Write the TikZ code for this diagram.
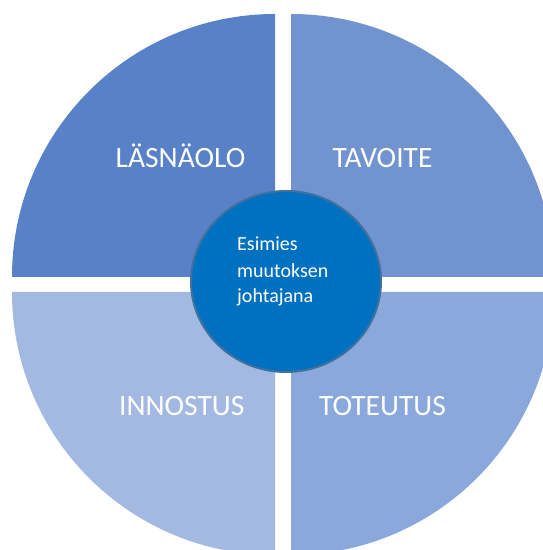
\documentclass[tikz,border=0pt]{standalone}
\usepackage{fontspec}
\setmainfont{Carlito}
\usetikzlibrary{shapes.geometric}
\definecolor{qul}{RGB}{88,129,200}
\definecolor{qur}{RGB}{113,148,209}
\definecolor{qll}{RGB}{163,185,225}
\definecolor{qlr}{RGB}{138,168,219}
\definecolor{hub}{RGB}{0,112,192}
\definecolor{hubline}{RGB}{65,113,156}
\tikzset{
  quad/.style={draw=none},
  qlabel/.style={text=white, anchor=base, inner sep=0pt, font=\fontsize{29.5}{35}\selectfont},
  hubtext/.style={text=white, anchor=base west, inner sep=0pt, font=\fontsize{20}{24}\selectfont},
}
\begin{document}
\begin{tikzpicture}[x=1pt,y=1pt]
\useasboundingbox (0,0) rectangle (543,550);
\clip (0,0) rectangle (543,550);
% quadrants
\fill[qul] (275,273) -- ++(-263,0) arc[start angle=180, end angle=90, radius=263] -- cycle;
\fill[qur] (291,273) -- ++(0,263) arc[start angle=90, end angle=0, radius=263] -- cycle;
\fill[qll] (275,258) -- ++(-263,0) arc[start angle=180, end angle=270, radius=263] -- cycle;
\fill[qlr] (291,258) -- ++(263,0) arc[start angle=0, end angle=-90, radius=263] -- cycle;
% labels
\node[qlabel] (lasnaolo) at (180.5,382) {LÄSNÄOLO};
\node[qlabel] (tavoite) at (382.5,382) {TAVOITE};
\node[qlabel] (innostus) at (181.7,134) {INNOSTUS};
\node[qlabel] (toteutus) at (382.5,134) {TOTEUTUS};
% center
\node[ellipse, fill=hub, draw=hubline, line width=2pt, minimum width=190pt, minimum height=181pt, inner sep=0pt] (hub) at (286,268.5) {};
\node[hubtext] (l1) at (237,299) {Esimies};
\node[hubtext] (l2) at (237,272.5) {muutoksen};
\node[hubtext] (l3) at (237,247) {johtajana};
\end{tikzpicture}
\end{document}
